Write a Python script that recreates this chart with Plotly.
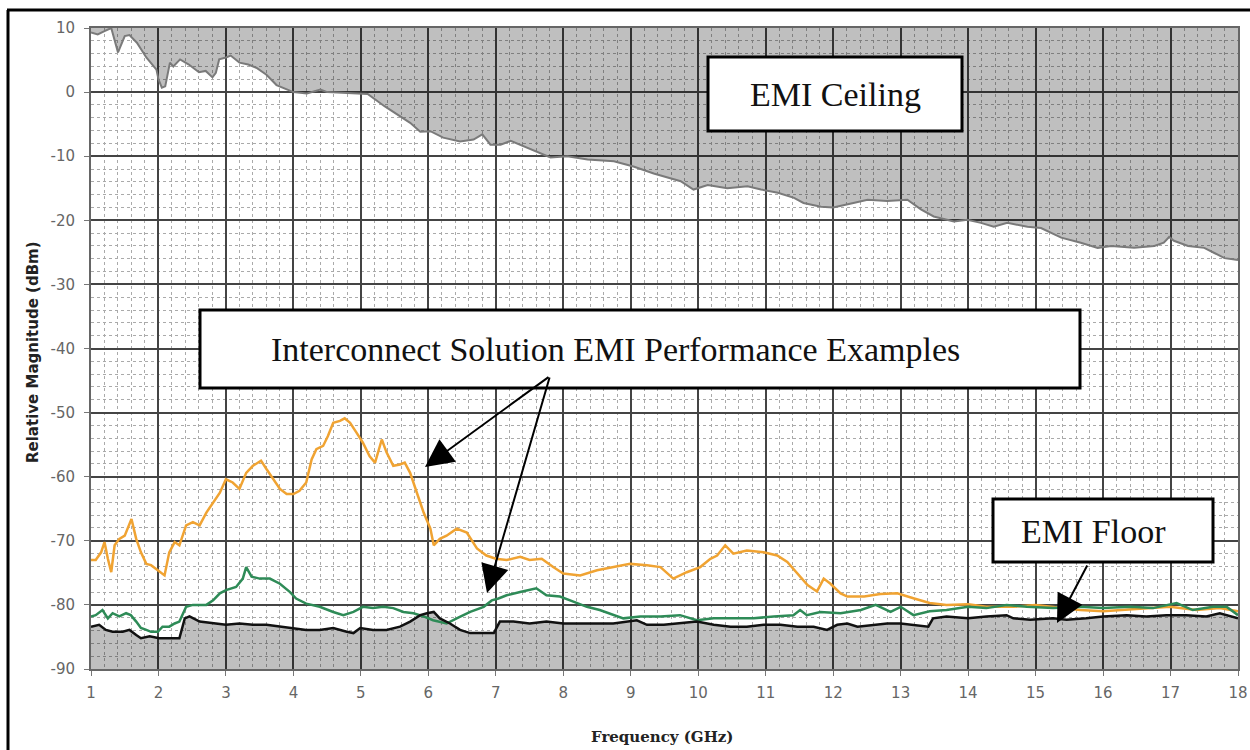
import plotly.graph_objects as go

# ---------------- data ----------------
ceil_f = [1.0, 1.1, 1.2, 1.3, 1.4, 1.5, 1.57, 1.68, 1.82, 1.97, 2.0, 2.05, 2.1, 2.17, 2.22,
          2.32, 2.45, 2.6, 2.7, 2.8, 2.85, 2.9, 3.0, 3.07, 3.2, 3.33, 3.45, 3.6, 3.75, 3.9,
          4.0, 4.2, 4.4, 4.5, 4.7, 4.9, 5.1, 5.35, 5.6, 5.73, 5.88, 6.03, 6.22, 6.47, 6.67,
          6.8, 6.92, 7.07, 7.22, 7.47, 7.81, 8.06, 8.36, 8.75, 9.04, 9.34, 9.74, 9.93, 10.14,
          10.43, 10.73, 10.93, 11.18, 11.42, 11.56, 11.82, 12.0, 12.3, 12.51, 12.8, 13.1,
          13.3, 13.49, 13.79, 13.99, 14.19, 14.38, 14.58, 14.88, 15.08, 15.38, 15.67, 15.92,
          16.12, 16.46, 16.76, 16.9, 16.98, 17.05, 17.26, 17.5, 17.65, 17.8, 18.0]
ceil_v = [9.3, 9.0, 9.5, 10.0, 6.2, 8.75, 8.9, 7.7, 5.4, 3.5, 2.0, 0.7, 0.9, 4.6, 4.0,
          5.1, 4.3, 3.1, 3.3, 2.3, 3.0, 5.1, 5.4, 5.7, 4.6, 4.3, 3.8, 2.7, 1.1, 0.4,
          0.0, -0.2, 0.4, 0.0, -0.1, -0.1, -0.3, -2.2, -4.0, -4.8, -6.2, -6.1, -7.1, -7.7, -7.4,
          -6.6, -8.2, -8.2, -7.6, -8.7, -10.2, -10.0, -10.5, -10.8, -11.6, -12.7, -13.9, -15.2, -14.5,
          -15.0, -14.7, -15.2, -15.7, -16.5, -17.3, -17.9, -18.0, -17.3, -16.8, -17.0, -16.8,
          -18.3, -19.4, -20.2, -19.9, -20.4, -21.0, -20.4, -21.0, -21.2, -22.7, -23.5, -24.3,
          -24.0, -24.3, -24.0, -23.5, -22.6, -23.2, -24.0, -24.3, -25.1, -25.9, -26.2]

orange_f = [1.0, 1.07, 1.15, 1.2, 1.25, 1.3, 1.35, 1.42, 1.5, 1.6, 1.67, 1.74, 1.82, 1.89, 1.99,
            2.09, 2.16, 2.24, 2.31, 2.41, 2.51, 2.61, 2.71, 2.81, 2.91, 3.0, 3.1, 3.2, 3.3, 3.4,
            3.52, 3.6, 3.7, 3.8, 3.9, 4.0, 4.09, 4.19, 4.27, 4.34, 4.44, 4.51, 4.59, 4.69, 4.76,
            4.84, 4.94, 5.03, 5.13, 5.21, 5.31, 5.38, 5.48, 5.58, 5.65, 5.73, 5.83, 5.93, 6.03,
            6.08, 6.17, 6.27, 6.42, 6.57, 6.72, 6.86, 7.0, 7.16, 7.36, 7.5, 7.68, 7.85, 8.0,
            8.25, 8.5, 8.74, 8.99, 9.24, 9.44, 9.63, 9.83, 10.03, 10.18, 10.28, 10.4, 10.52,
            10.72, 10.97, 11.17, 11.32, 11.47, 11.62, 11.76, 11.86, 11.96, 12.11, 12.21, 12.46,
            12.7, 12.95, 13.2, 13.43, 13.68, 14.0, 14.27, 14.67, 15.0, 15.4, 15.66, 16.0, 16.25,
            16.64, 16.99, 17.38, 17.73, 18.0]
orange_v = [-73.0, -73.0, -71.8, -70.2, -72.8, -74.9, -70.7, -69.7, -69.2, -66.6, -69.7, -71.8,
            -73.6, -73.8, -74.6, -75.4, -71.8, -70.2, -70.7, -67.6, -67.1, -67.6, -65.6, -64.0,
            -62.5, -60.4, -60.9, -61.9, -59.4, -58.3, -57.5, -58.8, -60.4, -61.9, -62.7, -62.7,
            -62.2, -60.9, -57.3, -55.7, -55.2, -53.7, -51.6, -51.3, -50.9, -51.6, -53.2, -54.7,
            -56.8, -57.8, -54.2, -56.2, -58.3, -58.1, -57.8, -59.4, -62.5, -65.6, -68.1, -70.7,
            -69.7, -69.2, -68.1, -68.7, -71.2, -72.3, -72.8, -73.0, -72.5, -73.0, -72.8, -74.1,
            -75.1, -75.4, -74.6, -74.1, -73.6, -73.8, -74.1, -75.9, -74.9, -74.1, -72.8, -72.3,
            -70.7, -72.0, -71.5, -71.8, -72.3, -73.3, -75.1, -76.9, -77.9, -75.9, -76.7, -78.2,
            -78.7, -78.7, -78.3, -78.2, -79.0, -79.7, -80.0, -79.9, -80.3, -80.3, -80.0, -80.5,
            -80.8, -81.0, -80.8, -80.5, -80.3, -80.8, -80.5, -81.0]

green_f = [1.0, 1.07, 1.17, 1.25, 1.32, 1.42, 1.52, 1.59, 1.67, 1.74, 1.82, 1.89, 1.99, 2.06,
           2.16, 2.24, 2.31, 2.41, 2.51, 2.71, 2.81, 2.91, 3.0, 3.15, 3.25, 3.3, 3.38, 3.5,
           3.65, 3.8, 3.95, 4.04, 4.19, 4.39, 4.59, 4.74, 4.89, 5.03, 5.18, 5.33, 5.48, 5.63,
           5.78, 5.93, 6.07, 6.27, 6.42, 6.62, 6.82, 6.94, 7.04, 7.16, 7.36, 7.6, 7.75, 7.95,
           8.15, 8.35, 8.54, 8.74, 8.89, 9.14, 9.44, 9.73, 9.98, 10.23, 10.52, 10.82, 11.12,
           11.41, 11.51, 11.61, 11.81, 12.11, 12.41, 12.63, 12.85, 13.0, 13.19, 13.43, 13.68,
           14.0, 14.27, 14.57, 14.87, 15.26, 15.66, 16.0, 16.4, 16.74, 17.09, 17.33, 17.63,
           17.83, 18.0]
green_v = [-81.8, -81.6, -80.8, -82.1, -81.3, -81.8, -81.3, -81.6, -82.6, -83.6, -83.9, -84.2,
           -84.2, -83.4, -83.4, -82.9, -82.6, -80.3, -80.0, -80.0, -79.3, -78.2, -77.7, -77.2,
           -75.9, -74.1, -75.6, -75.9, -75.9, -76.7, -78.0, -79.0, -79.8, -80.3, -81.1, -81.6,
           -81.1, -80.3, -80.5, -80.3, -80.5, -81.1, -81.3, -81.8, -82.4, -82.9, -82.1, -81.1,
           -80.3, -79.3, -79.0, -78.5, -78.0, -77.4, -78.5, -78.7, -79.5, -80.3, -80.8, -81.6,
           -82.1, -81.8, -81.8, -81.6, -82.4, -82.1, -82.1, -82.1, -81.8, -81.6, -80.8, -81.6,
           -81.1, -81.3, -80.8, -80.0, -81.1, -80.3, -81.6, -81.0, -80.8, -80.3, -80.5, -80.0,
           -80.3, -80.5, -80.3, -80.5, -80.3, -80.5, -79.7, -80.8, -80.3, -80.3, -81.6]

floor_f = [1.0, 1.12, 1.22, 1.32, 1.47, 1.57, 1.67, 1.74, 1.87, 2.01, 2.16, 2.31, 2.39, 2.46,
           2.61, 2.81, 3.0, 3.2, 3.4, 3.6, 3.8, 4.0, 4.19, 4.39, 4.59, 4.79, 4.89, 4.99, 5.18,
           5.38, 5.58, 5.73, 5.88, 5.98, 6.08, 6.17, 6.32, 6.47, 6.62, 6.82, 6.97, 7.06, 7.26,
           7.5, 7.75, 8.0, 8.25, 8.5, 8.74, 9.09, 9.24, 9.49, 9.73, 9.98, 10.23, 10.48, 10.72,
           10.97, 11.22, 11.47, 11.71, 11.91, 12.06, 12.21, 12.36, 12.6, 12.8, 13.0, 13.19,
           13.41, 13.48, 13.68, 14.0, 14.27, 14.57, 14.67, 14.92, 15.26, 15.46, 15.75, 16.0,
           16.35, 16.64, 16.94, 17.23, 17.53, 17.73, 18.0]
floor_v = [-83.4, -83.1, -83.9, -84.2, -84.2, -83.9, -84.7, -85.2, -84.9, -85.2, -85.2, -85.2,
           -82.1, -81.8, -82.6, -82.9, -83.1, -82.9, -83.1, -83.1, -83.4, -83.6, -83.9, -83.9,
           -83.6, -84.2, -84.4, -83.6, -83.9, -83.9, -83.4, -82.6, -81.6, -81.3, -81.1, -82.1,
           -82.9, -83.9, -84.4, -84.4, -84.4, -82.6, -82.6, -82.9, -82.6, -82.9, -82.9, -82.9,
           -82.9, -82.4, -83.1, -83.1, -82.9, -82.6, -83.1, -83.4, -83.4, -83.1, -83.1, -83.4,
           -83.4, -83.9, -83.1, -82.9, -83.4, -83.1, -82.9, -82.9, -83.1, -83.4, -82.1, -81.8,
           -82.1, -81.8, -81.6, -82.1, -82.3, -82.1, -82.3, -82.1, -81.8, -81.6, -81.8, -81.6,
           -81.6, -81.8, -81.3, -82.1]

x_ticks = list(range(1, 19))
y_ticks = list(range(-90, 11, 10))
Y_MIN, Y_MAX = -90, 10

# ---------------- layout geometry (pixels) ----------------
W, H = 1250, 750
L, R, T, B = 91, 1238, 28, 669


def px(xp, yp):
    return (xp - L) / (R - L), (B - yp) / (B - T)


GRAY_FILL = "rgba(0,0,0,0.25)"

fig = go.Figure()

# EMI ceiling (fill from top of chart down to ceiling curve)
fig.add_trace(go.Scatter(x=ceil_f, y=[Y_MAX] * len(ceil_f), mode="lines",
                         line=dict(width=0), hoverinfo="skip", showlegend=False))
fig.add_trace(go.Scatter(x=ceil_f, y=ceil_v, mode="lines", fill="tonexty",
                         fillcolor=GRAY_FILL, line=dict(color="#7a7a7a", width=2),
                         showlegend=False, name="EMI Ceiling"))

# EMI floor fill (from bottom up to floor curve)
fig.add_trace(go.Scatter(x=floor_f, y=[Y_MIN] * len(floor_f), mode="lines",
                         line=dict(width=0), hoverinfo="skip", showlegend=False))
fig.add_trace(go.Scatter(x=floor_f, y=floor_v, mode="lines", fill="tonexty",
                         fillcolor=GRAY_FILL, line=dict(width=0),
                         hoverinfo="skip", showlegend=False))

fig.add_trace(go.Scatter(x=orange_f, y=orange_v, mode="lines",
                         line=dict(color="#F0A332", width=2.5), showlegend=False))
fig.add_trace(go.Scatter(x=green_f, y=green_v, mode="lines",
                         line=dict(color="#2E8B57", width=2.5), showlegend=False))
fig.add_trace(go.Scatter(x=floor_f, y=floor_v, mode="lines",
                         line=dict(color="#111111", width=2.5), showlegend=False,
                         name="EMI Floor"))

axis_common = dict(
    showline=True, mirror=True, linecolor="#666666", linewidth=2,
    showgrid=True, gridcolor="#444444", gridwidth=2, automargin=False,
    zeroline=False, ticks="outside", ticklen=5, tickcolor="#777777",
    tickfont=dict(family="DejaVu Sans", size=15, color="#666666"),
)

fig.update_xaxes(range=[1, 18], tickvals=x_ticks, ticktext=[str(t) for t in x_ticks],
                 ticklabelstandoff=4,
                 minor=dict(dtick=0.2, tick0=1, showgrid=True, gridcolor="#aaaaaa",
                            griddash="dot", gridwidth=1, ticks=""),
                 **axis_common)
fig.update_yaxes(range=[Y_MIN, Y_MAX], tickvals=y_ticks, ticktext=[str(t) for t in y_ticks],
                 ticklabelstandoff=6,
                 minor=dict(dtick=2, tick0=0, showgrid=True, gridcolor="#aaaaaa",
                            griddash="dot", gridwidth=1, ticks=""),
                 **axis_common)

shapes = []
annotations = []

# outer frame lines
shapes.append(dict(type="line", xref="paper", yref="paper",
                   x0=px(7, 10)[0], y0=px(7, 10)[1], x1=px(1250, 10)[0], y1=px(1250, 10)[1],
                   line=dict(color="black", width=3)))
shapes.append(dict(type="line", xref="paper", yref="paper",
                   x0=px(8, 10)[0], y0=px(8, 10)[1], x1=px(8, 750)[0], y1=px(8, 750)[1],
                   line=dict(color="black", width=3)))


def box(x0, y0, x1, y1, text, tx, ty):
    a = px(x0, y0)
    b = px(x1, y1)
    shapes.append(dict(type="rect", xref="paper", yref="paper",
                       x0=a[0], y0=a[1], x1=b[0], y1=b[1],
                       fillcolor="white", line=dict(color="black", width=3), layer="above"))
    c = px(tx, ty)
    annotations.append(dict(xref="paper", yref="paper", x=c[0], y=c[1], text=text,
                            showarrow=False, xanchor="center", yanchor="middle",
                            font=dict(family="Liberation Serif", size=34, color="#111111")))


box(708, 57, 962, 131, "EMI Ceiling", 835, 94)
box(200, 310, 1080, 388, "Interconnect Solution EMI Performance Examples", 615, 349)
box(993, 499, 1213, 562, "EMI Floor", 1093, 531)


def arrow(tail, tip):
    t = px(*tip)
    annotations.append(dict(xref="paper", yref="paper", x=t[0], y=t[1], text="",
                            showarrow=True, arrowhead=2, arrowsize=2.8, arrowwidth=2,
                            arrowcolor="black", ax=tail[0] - tip[0], ay=tail[1] - tip[1]))


arrow((550, 376), (425, 467))
arrow((550, 376), (487, 593))
arrow((1088, 564), (1057, 623))

# axis titles
c = px(33, 352)
annotations.append(dict(xref="paper", yref="paper", x=c[0], y=c[1],
                        text="<b>Relative Magnitude (dBm)</b>", textangle=-90, showarrow=False,
                        font=dict(family="DejaVu Sans", size=15, color="#222222"),
                        xanchor="center", yanchor="middle"))
c = px(662, 737)
annotations.append(dict(xref="paper", yref="paper", x=c[0], y=c[1],
                        text="<b>Frequency (GHz)</b>", showarrow=False,
                        font=dict(family="DejaVu Serif", size=15, color="#222222"),
                        xanchor="center", yanchor="middle"))

fig.update_layout(
    width=W, height=H, autosize=False,
    margin=dict(l=L, r=W - R, t=T, b=H - B, autoexpand=False),
    paper_bgcolor="white", plot_bgcolor="white",
    showlegend=False,
    shapes=shapes, annotations=annotations,
)

fig.write_html(
    "out.html",
    config={"displayModeBar": False, "responsive": False},
    post_script=("document.body.style.margin='0px';"
                 "document.body.style.overflow='hidden';"
                 "Plotly.relayout('{plot_id}', {width: 1250, height: 750});"),
)
